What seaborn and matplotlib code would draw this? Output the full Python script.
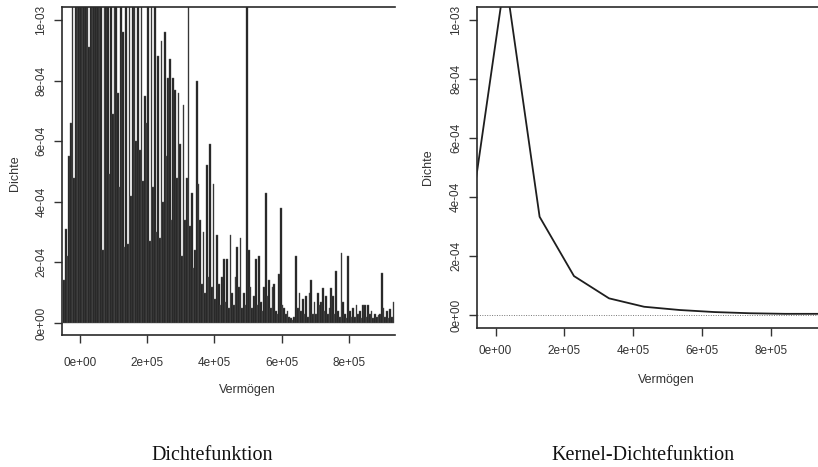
import numpy as np
import pandas as pd
import seaborn as sns
import matplotlib
matplotlib.use("Agg")
import matplotlib.pyplot as plt
from matplotlib.ticker import FixedLocator, FixedFormatter

# left panel: spike heights (in 1e-4) for bins of width 5000 starting at -50000
bin_start = -50000
bin_width = 5000
spike_heights = [
    1.4, 3.1, 2.2, 5.5, 6.6, 12, 4.8, 13, 14, 13,
    12, 15, 13, 14, 12, 9.1, 13, 14, 12, 13,
    15, 12, 13, 2.4, 14, 12, 13, 4.9, 12, 6.9,
    13, 12, 7.6, 4.5, 12, 9.6, 2.5, 13, 2.6, 12,
    4.2, 13, 12, 6.0, 13, 5.7, 14, 4.7, 7.5, 6.6,
    12, 2.7, 13, 4.5, 12, 3.0, 8.8, 2.8, 9.3, 4.0,
    9.6, 5.5, 8.1, 8.7, 3.4, 8.1, 7.7, 4.8, 7.6, 5.9,
    2.2, 7.2, 3.4, 4.8, 12, 3.2, 4.3, 1.8, 2.4, 8.0,
    4.6, 3.4, 1.3, 3.0, 1.0, 5.2, 1.5, 5.9, 1.2, 4.6,
    0.8, 2.9, 1.3, 0.6, 1.5, 2.1, 0.7, 2.1, 0.5, 2.9,
    1.0, 0.6, 1.5, 2.5, 1.2, 2.8, 0.5, 1.0, 0.6, 12,
    2.4, 1.2, 0.5, 0.9, 2.1, 0.6, 2.2, 0.7, 0.4, 1.2,
    4.3, 0.9, 1.4, 0.5, 1.2, 1.3, 0.4, 0.3, 1.6, 3.8,
    0.6, 0.5, 0.3, 0.4, 0.2, 0.15, 0.1, 0.2, 2.2, 0.5,
    1.0, 0.4, 0.8, 0.3, 0.9, 0.2, 1.0, 1.4, 0.3, 0.7,
    0.3, 1.0, 0.6, 0.7, 1.15, 0.4, 0.9, 0.3, 0.5, 1.15,
    0.9, 0.3, 1.7, 0.4, 0.2, 2.3, 0.7, 0.3, 0.15, 2.2,
    0.4, 0.2, 0.5, 0.2, 0.6, 0.3, 0.4, 0.15, 0.6, 0.6,
    0.2, 0.6, 0.3, 0.4, 0.15, 0.3, 0.2, 0.25, 0.3, 1.65,
    0.5, 0.2, 0.4, 0.15, 0.45, 0.2, 0.7,
]

# right panel: kernel density estimate
kernel_x = [-72000, 28000, 128000, 228000, 330000, 432000, 535000,
            637000, 740000, 842000, 944000]
kernel_y = [0.34e-3, 1.15e-3, 0.333e-3, 0.132e-3, 0.0565e-3, 0.028e-3,
            0.017e-3, 0.010e-3, 0.006e-3, 0.004e-3, 0.004e-3]

x_ticks = [0, 200000, 400000, 600000, 800000]
x_labels = ["0e+00", "2e+05", "4e+05", "6e+05", "8e+05"]
y_ticks = [0, 2e-4, 4e-4, 6e-4, 8e-4, 1e-3]
y_labels = ["0e+00", "2e-04", "4e-04", "6e-04", "8e-04", "1e-03"]

sns.set_theme(style="white")
plt.rcParams["font.family"] = ["Liberation Sans", "DejaVu Sans"]

W, H = 818, 467
fig = plt.figure(figsize=(W / 100, H / 100), dpi=100)

def px_axes(l, t, r, b):
    return fig.add_axes([l / W, 1 - b / H, (r - l) / W, (b - t) / H])

ax1 = px_axes(62, 7, 395, 335)
ax2 = px_axes(476.7, 6.7, 818, 327.7)

n = len(spike_heights)
centers = bin_start + bin_width * (np.arange(n) + 0.5)
df = pd.DataFrame({"x": centers, "h": np.array(spike_heights) * 1e-4})
# thin grey edges give the scanned, streaky look of the spikes
sns.histplot(data=df, x="x", weights="h", binwidth=bin_width,
             binrange=(bin_start, bin_start + n * bin_width),
             color="#1c1c1c", alpha=1, edgecolor="#5e5e5e", linewidth=0.3,
             ax=ax1)

sns.lineplot(x=kernel_x, y=kernel_y, color="#1e1e1e", linewidth=1.3, ax=ax2)
ax2.axhline(0, color="#777777", linewidth=0.7, linestyle=(0, (1, 1.5)))

ax1.set_xlim(-53600, 937000)
ax1.set_ylim(-0.04e-3, 1.043e-3)
ax2.set_xlim(-55000, 938000)
ax2.set_ylim(-0.043e-3, 1.045e-3)

txt = "#333333"
for ax, xpad in ((ax1, 10), (ax2, 7)):
    ax.xaxis.set_major_locator(FixedLocator(x_ticks))
    ax.xaxis.set_major_formatter(FixedFormatter(x_labels))
    ax.yaxis.set_major_locator(FixedLocator(y_ticks))
    ax.yaxis.set_major_formatter(FixedFormatter(y_labels))
    ax.tick_params(axis="both", direction="out", length=5.5, width=1,
                   color="#333333", labelsize=8.5, labelcolor=txt)
    ax.tick_params(axis="x", pad=xpad, bottom=True)
    ax.tick_params(axis="y", pad=5, left=True)
    for lab in ax.get_yticklabels():
        lab.set_rotation(90)
        lab.set_va("center")
    for side in ("left", "top", "bottom"):
        ax.spines[side].set_visible(True)
        ax.spines[side].set_color("#2a2a2a")
        ax.spines[side].set_linewidth(1.2)
    ax.spines["right"].set_visible(False)
    ax.set_xlabel("Vermögen", fontsize=9, color=txt)
    ax.set_ylabel("Dichte", fontsize=9, color=txt)
    ax.xaxis.label.set_va("center")
    ax.yaxis.label.set_va("center")

ax1.xaxis.set_label_coords(0.555, (335 - 390) / 328)
ax1.yaxis.set_label_coords((15 - 62) / 333, 0.494)
ax2.xaxis.set_label_coords(0.555, (327.7 - 380) / 321)
ax2.yaxis.set_label_coords((428.3 - 476.7) / 341.3, 0.50)

cap = dict(ha="center", va="center", fontsize=14.5, color="#111111",
           family=["Liberation Serif", "DejaVu Serif"])
fig.text(212 / W, 1 - 456 / H, "Dichtefunktion", **cap)
fig.text(643 / W, 1 - 456 / H, "Kernel-Dichtefunktion", **cap)

fig.savefig("out.png", dpi=100)
